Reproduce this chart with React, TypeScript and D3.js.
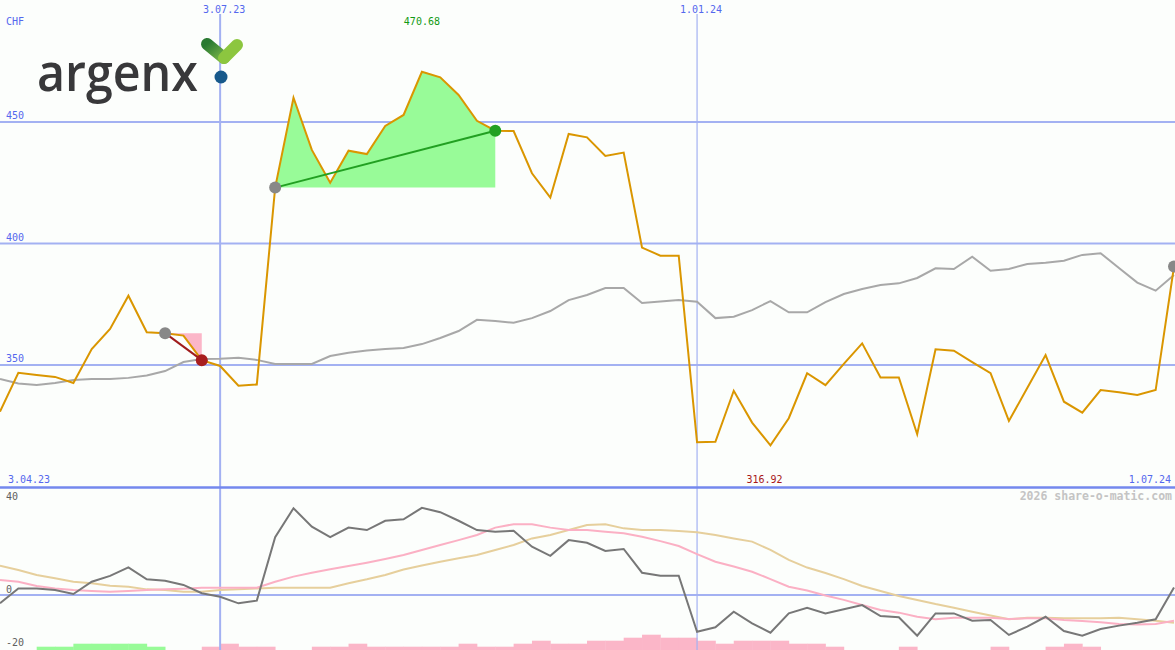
import React from 'react';
import * as d3 from 'd3';

// ---- data (weekly, 10.04.23 .. 1.07.24) ----
const startLabel = '3.04.23';
const endLabel = '1.07.24';
const dateMarks = [
  { label: '3.07.23', index: 12 },
  { label: '1.01.24', index: 38 },
];
const priceTicks = [450, 400, 350];
const oscTicks = [40, 0, -20];

const price = [
  330.8, 346.8, 345.9, 345.1, 342.6, 356.6, 364.8, 378.5, 363.5, 363.1,
  362.1, 352.0, 349.6, 341.5, 342.0, 423.0, 460.0, 438.5, 425.0, 438.2,
  436.8, 448.4, 452.9, 470.68, 468.4, 461.1, 450.5, 446.4, 446.3, 428.9,
  418.9, 445.1, 443.7, 436.0, 437.4, 398.3, 395.0, 395.0, 318.2, 318.4,
  339.4, 326.3, 316.92, 328.1, 346.6, 341.7, 350.5, 358.9, 344.9, 344.9,
  321.5, 356.5, 355.9, 351.2, 346.6, 327.0, 340.5, 354.1, 334.9, 330.4,
  339.7, 338.8, 337.7, 339.7, 390.5,
];

const average = [
  344.2, 342.4, 341.8, 342.6, 343.8, 344.2, 344.2, 344.7, 345.7, 347.5,
  351.2, 352.5, 352.6, 353.0, 352.1, 350.4, 350.4, 350.4, 353.7, 355.0,
  356.0, 356.6, 357.0, 358.6, 361.1, 364.0, 368.6, 368.1, 367.4, 369.3,
  372.2, 376.7, 378.8, 381.7, 381.7, 375.5, 376.1, 376.7, 376.0, 369.3,
  369.9, 372.6, 376.3, 371.7, 371.7, 375.9, 379.2, 381.3, 382.9, 383.6,
  385.8, 389.8, 389.5, 394.6, 388.8, 389.5, 391.6, 392.1, 392.9, 395.3,
  396.0, 389.9, 383.9, 380.6, 387.0,
];

const momentum = [
  -3.4, 2.7, 2.7, 2.0, 0.4, 5.4, 7.8, 11.3, 6.4, 5.8,
  4.1, 0.7, -0.7, -3.4, -2.3, 23.6, 35.4, 27.9, 23.6, 27.5,
  26.5, 30.3, 30.9, 35.6, 33.8, 30.3, 26.5, 25.8, 26.2, 19.7,
  16.0, 22.4, 21.3, 18.0, 18.8, 9.1, 7.9, 7.9, -15.0, -13.2,
  -6.8, -11.6, -15.4, -7.5, -5.2, -7.5, -5.8, -4.1, -8.6, -9.1,
  -16.6, -7.5, -7.5, -10.5, -10.2, -16.3, -12.9, -8.9, -14.7, -16.6,
  -13.9, -12.5, -11.3, -9.9, 3.1,
];

const momentumFast = [
  6.1, 5.4, 3.7, 2.7, 2.0, 1.6, 1.3, 1.6, 2.0, 2.3,
  2.6, 3.0, 3.0, 3.0, 3.0, 5.4, 7.5, 9.1, 10.5, 11.8,
  13.2, 14.7, 16.3, 18.4, 20.4, 22.4, 24.5, 27.5, 28.9, 28.9,
  27.5, 26.5, 26.5, 25.8, 25.2, 23.8, 22.0, 20.0, 16.7, 13.6,
  11.6, 9.5, 6.5, 3.4, 1.8, -0.2, -2.0, -4.1, -6.1, -7.2,
  -8.9, -9.9, -9.3, -9.3, -9.3, -9.8, -9.5, -9.5, -10.2, -10.6,
  -11.1, -11.8, -12.0, -11.8, -10.5,
];

const momentumSlow = [
  12.0, 10.2, 8.2, 6.8, 5.4, 4.8, 3.8, 3.4, 2.3, 2.0,
  1.3, 1.3, 2.0, 2.3, 2.7, 3.0, 3.0, 3.0, 3.0, 4.8,
  6.4, 8.2, 10.4, 12.0, 13.6, 15.0, 16.3, 18.4, 20.4, 23.1,
  24.5, 26.5, 28.6, 28.9, 27.2, 26.5, 26.5, 26.1, 25.6, 24.5,
  23.1, 21.8, 18.4, 14.3, 11.2, 9.0, 6.5, 3.7, 1.6, -0.4,
  -2.0, -3.7, -5.2, -6.8, -8.4, -9.9, -9.3, -9.3, -9.5, -9.5,
  -9.5, -9.3, -9.9, -10.5, -11.3,
];

// signed histogram levels (positive = green, negative = pink)
const histogram = [
  0, 0, 1, 1, 2, 2, 2, 2, 1, 0,
  0, -1, -2, -1, -1, 0, 0, -1, -1, -2,
  -1, -1, -1, -1, -1, -2, -1, -1, -2, -3,
  -2, -2, -3, -3, -4, -5, -4, -4, -3, -2,
  -3, -3, -3, -2, -2, -1, 0, 0, 0, -1,
  0, 0, 0, 0, -1, 0, 0, -1, -2, -1,
  0, 0, 0, 0, 0,
];

const sellSignal = { from: 9, to: 11 };
const buySignal = { from: 15, to: 27 };
const endSignal = 64;
const currency = 'CHF';
const watermark = '2026 share-o-matic.com';

// ---- styles ----
const W = 1175;
const H = 650;
const BLUE_TEXT = '#5468ee';
const GRID = '#a3b1f2';
const MONO = '"DejaVu Sans Mono", monospace';

export default function App() {
  const n = price.length;
  const x = d3.scaleLinear().domain([0, n - 1]).range([0, 1174]);
  const y = d3.scaleLinear().domain([300, 500]).range([486.5, 0.5]);
  const yLow = d3.scaleLinear().domain([0, 40]).range([595, 497]);
  const barH = d3.scaleLinear().domain([0, 5]).range([0, 15]);

  const idx = d3.range(n);
  const mainLine = (arr: number[]) =>
    d3.line<number>().x((i) => x(i)).y((i) => y(arr[i]))(idx) || '';
  const lowLine = (arr: number[]) =>
    d3.line<number>().x((i) => x(i)).y((i) => yLow(arr[i]))(idx) || '';

  const buyBase = price[buySignal.from];
  const buyArea =
    d3
      .area<number>()
      .x((i) => x(i))
      .y0(() => y(buyBase))
      .y1((i) => y(price[i]))(d3.range(buySignal.from, buySignal.to + 1)) || '';
  const sellBase = price[sellSignal.from];
  const sellArea =
    d3
      .area<number>()
      .x((i) => x(i))
      .y0(() => y(sellBase))
      .y1((i) => y(price[i]))(d3.range(sellSignal.from, sellSignal.to + 1)) || '';

  const iMax = d3.maxIndex(price);
  const iMin = d3.minIndex(price);
  const step = x(1) - x(0);

  return (
    <svg
      width={W}
      height={H}
      viewBox={`0 0 ${W} ${H}`}
      style={{ position: 'fixed', left: 0, top: 0, background: '#fcfefc' }}
    >
      <rect x={0} y={0} width={W} height={H} fill="#fcfefc" />
      <defs>
        <linearGradient id="leftArm" x1="0" y1="0" x2="1" y2="1">
          <stop offset="0%" stopColor="#2a7a32" />
          <stop offset="100%" stopColor="#7ab648" />
        </linearGradient>
      </defs>

      {/* histogram bars */}
      {histogram.map((h, i) =>
        h === 0 ? null : (
          <rect
            key={'h' + i}
            x={x(i)}
            y={H - barH(Math.abs(h)) - 0.3}
            width={step + 0.4}
            height={barH(Math.abs(h)) + 2}
            fill={h > 0 ? '#98fb98' : '#fbb6c8'}
          />
        )
      )}

      {/* horizontal grid lines */}
      {priceTicks.map((t) => (
        <line key={'g' + t} x1={0} x2={W} y1={y(t)} y2={y(t)} stroke={GRID} strokeWidth={2} />
      ))}
      <line x1={0} x2={W} y1={yLow(0)} y2={yLow(0)} stroke={GRID} strokeWidth={2} />

      {/* vertical date lines */}
      {dateMarks.map((d, k) => (
        <line
          key={'v' + d.label}
          x1={x(d.index)}
          x2={x(d.index)}
          y1={14}
          y2={H}
          stroke={GRID}
          strokeWidth={k === 0 ? 2 : 1.2}
        />
      ))}

      {/* separator */}
      <line x1={0} x2={W} y1={487.5} y2={487.5} stroke="#7488ee" strokeWidth={2.5} />

      {/* signal areas */}
      <path d={buyArea} fill="#98fb98" />
      <path d={sellArea} fill="#fbb6c8" />

      {/* average */}
      <path d={mainLine(average)} fill="none" stroke="#a8a8a8" strokeWidth={2} />
      {/* price */}
      <path d={mainLine(price)} fill="none" stroke="#da9600" strokeWidth={2} />

      {/* signals */}
      <line
        x1={x(sellSignal.from)}
        y1={y(price[sellSignal.from])}
        x2={x(sellSignal.to)}
        y2={y(price[sellSignal.to])}
        stroke="#a01c1c"
        strokeWidth={2}
      />
      <line
        x1={x(buySignal.from)}
        y1={y(price[buySignal.from])}
        x2={x(buySignal.to)}
        y2={y(price[buySignal.to])}
        stroke="#22a022"
        strokeWidth={2}
      />
      <circle cx={x(sellSignal.from)} cy={y(price[sellSignal.from])} r={6} fill="#888" />
      <circle cx={x(sellSignal.to)} cy={y(price[sellSignal.to])} r={6} fill="#a81e1e" />
      <circle cx={x(buySignal.from)} cy={y(price[buySignal.from])} r={6} fill="#888" />
      <circle cx={x(buySignal.to)} cy={y(price[buySignal.to])} r={6} fill="#22a022" />
      <circle cx={x(endSignal)} cy={y(price[endSignal])} r={6} fill="#888" />

      {/* lower panel lines */}
      <path d={lowLine(momentumSlow)} fill="none" stroke="#e6cf9c" strokeWidth={2} />
      <path d={lowLine(momentumFast)} fill="none" stroke="#fbb0c4" strokeWidth={2} />
      <path d={lowLine(momentum)} fill="none" stroke="#777" strokeWidth={2} />

      {/* texts */}
      <g fontFamily={MONO} fontSize={10}>
        <text x={6} y={25} fill={BLUE_TEXT}>{currency}</text>
        {priceTicks.map((t) => (
          <text key={'t' + t} x={6} y={y(t) - 3} fill={BLUE_TEXT}>{t}</text>
        ))}
        {dateMarks.map((d) => (
          <text key={'dl' + d.label} x={x(d.index) + 4} y={13} fill={BLUE_TEXT} textAnchor="middle">
            {d.label}
          </text>
        ))}
        <text x={8} y={483} fill={BLUE_TEXT}>{startLabel}</text>
        <text x={1171} y={483} fill={BLUE_TEXT} textAnchor="end">{endLabel}</text>
        <text x={x(iMax)} y={25} fill="#139a13" textAnchor="middle">{price[iMax].toFixed(2)}</text>
        <text x={x(iMin) - 6} y={483} fill="#a81818" textAnchor="middle">{price[iMin].toFixed(2)}</text>
        {oscTicks.map((t) => (
          <text
            key={'o' + t}
            x={6}
            y={t === oscTicks[0] ? yLow(t) + 3 : t === 0 ? yLow(t) - 2 : yLow(t) + 2}
            fill="#606060"
          >
            {t}
          </text>
        ))}
        <text
          x={1172}
          y={500}
          fill="#c4c4c4"
          textAnchor="end"
          fontSize={11.5}
          fontWeight="bold"
        >
          {watermark}
        </text>
      </g>

      {/* logo */}
      <g>
        <text
          x={37}
          y={91}
          fontFamily='"Open Sans", sans-serif'
          fontWeight={600}
          fontSize={53}
          fill="#38383a"
          textLength={161}
          lengthAdjust="spacingAndGlyphs"
        >
          argenx
        </text>
        <line x1={207} y1={44} x2={224} y2={58} stroke="url(#leftArm)" strokeWidth={12} strokeLinecap="round" />
        <line x1={224} y1={58} x2={237} y2={45} stroke="#8cc63f" strokeWidth={12} strokeLinecap="round" />
        <circle cx={221} cy={77} r={6.5} fill="#17598b" />
      </g>
    </svg>
  );
}
